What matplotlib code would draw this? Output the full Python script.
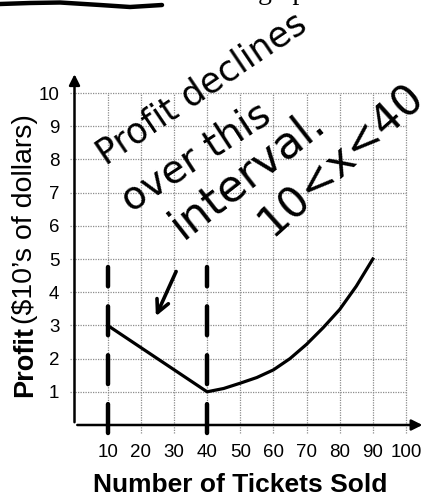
import matplotlib
matplotlib.use("Agg")
import matplotlib.pyplot as plt
from matplotlib.lines import Line2D

plt.rcParams['font.family'] = ['Liberation Sans', 'DejaVu Sans']

# profit curve: straight drop 10->40, then rising curve to 90
profit_x = [10, 40, 45, 50, 55, 60, 65, 70, 75, 80, 85, 90]
profit_y = [3.0, 1.0, 1.1, 1.26, 1.43, 1.66, 2.0, 2.43, 2.93, 3.48, 4.18, 5.0]

x_ticks = [10, 20, 30, 40, 50, 60, 70, 80, 90, 100]
y_ticks = [1, 2, 3, 4, 5, 6, 7, 8, 9, 10]

# hand-drawn dashed markers for the interval ends
interval_x = [10, 40]
interval_top = 4.75
interval_bottom = -0.25

# handwritten notes: text, x, y, rotation, size
notes = [
    ("Profit declines", 9.5, 7.8, 34, 25),
    ("over this", 17.0, 6.4, 33, 28),
    ("interval.", 32.7, 5.57, 38, 32),
    ("10<x<40", 59.5, 5.63, 42, 31),
]
arrow_tail = (31.0, 4.7)
arrow_head = (24.2, 3.2)

# scribble at the top left (figure pixels)
scribble_x = [0, 30, 60, 100, 130, 162]
scribble_y = [4, 3, 2.5, 5, 7, 5]

W, H = 442, 496
fig = plt.figure(figsize=(W / 100, H / 100), dpi=100)
ax = fig.add_axes([74.5 / W, 1 - 425 / H, (406 - 74.5) / W, (425 - 93) / H])
ax.set_xlim(0, 100)
ax.set_ylim(0, 10)
for s in ax.spines.values():
    s.set_visible(False)

# dotted grid
ax.hlines(y_ticks, -1.5, 100, colors='0.55', linestyles=(0, (1, 1)), lw=0.9, clip_on=False)
ax.vlines(x_ticks, -0.25, 10, colors='0.55', linestyles=(0, (1, 1)), lw=0.9, clip_on=False)

# axes with arrows
ax.annotate('', xy=(105.8, 0), xytext=(0, 0),
            arrowprops=dict(arrowstyle='-|>', lw=1.8, color='black', mutation_scale=16),
            annotation_clip=False)
ax.annotate('', xy=(0, 10.65), xytext=(0, 0),
            arrowprops=dict(arrowstyle='-|>', lw=1.8, color='black', mutation_scale=16),
            annotation_clip=False)

ax.plot(profit_x, profit_y, color='black', lw=2.3, solid_joinstyle='round', clip_on=False)

for xv in interval_x:
    ax.plot([xv, xv], [interval_bottom, interval_top], color='black', lw=3.2,
            linestyle=(0, (6.5, 4.5)), dash_capstyle='round', clip_on=False)

ax.annotate('', xy=arrow_head, xytext=arrow_tail,
            arrowprops=dict(arrowstyle='->,head_length=0.9,head_width=0.45', lw=2.6,
                            color='black'),
            annotation_clip=False)

for txt, tx, ty, rot, sz in notes:
    ax.text(tx, ty, txt, rotation=rot, rotation_mode='anchor', ha='left', va='baseline',
            fontsize=sz, family='DejaVu Sans', color='black', clip_on=False)

ax.set_xticks(x_ticks)
ax.set_yticks(y_ticks)
ax.set_xticklabels([str(v) for v in x_ticks])
ax.set_yticklabels([str(v) for v in y_ticks])
ax.tick_params(length=0, labelsize=13.5, colors='black')
ax.tick_params(axis='x', pad=14)
ax.tick_params(axis='y', pad=11)

fig.text(240.5 / W, 1 - 492 / H, 'Number of Tickets Sold', ha='center', va='baseline',
         fontsize=19, fontweight='bold')

t1 = fig.text(32 / W, 1 - 397 / H, 'Profit', rotation=90, rotation_mode='anchor',
              ha='left', va='baseline', fontsize=19.5, fontweight='bold')
fig.canvas.draw()
bb = t1.get_window_extent()
fig.text(32 / W, bb.y1 / fig.bbox.height + 2 / H, '($10\u2019s of dollars)', rotation=90,
         rotation_mode='anchor', ha='left', va='baseline', fontsize=20.5)

fig.add_artist(Line2D([v / W for v in scribble_x], [1 - v / H for v in scribble_y],
                      color='black', lw=3.2, solid_capstyle='round'))
fig.text(258 / W, 1 + 1 / H, 'graph', family='Liberation Serif', fontsize=20,
         ha='left', va='baseline')

fig.savefig('out.png', dpi=100)
